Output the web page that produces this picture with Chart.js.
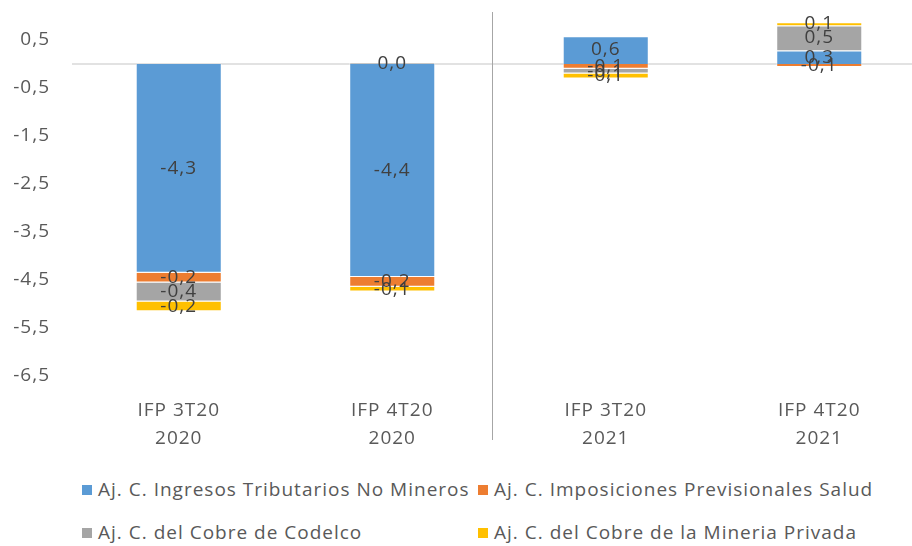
<!DOCTYPE html>
<html>
<head>
<meta charset="utf-8">
<script src="https://cdn.jsdelivr.net/npm/chart.js@4.4.1/dist/chart.umd.min.js"></script>
<style>
  html, body { margin: 0; padding: 0; background: #fff; overflow: hidden; }
  #wrap { position: relative; width: 926px; height: 546px; }
  #chart { position: absolute; left: 0; top: 0; }
  .legend { position: absolute; font-family: "Open Sans", sans-serif; font-size: 19px; letter-spacing: 1px; color: #595959; white-space: nowrap; }
  .legend span.box { display: inline-block; width: 10px; height: 10px; margin-right: 6px; vertical-align: middle; position: relative; top: -1px; }
</style>
</head>
<body>
<div id="wrap">
  <canvas id="chart" width="926" height="455"></canvas>
  <div id="legend"></div>
</div>
<script>
const categories = [["IFP 3T20", "2020"], ["IFP 4T20", "2020"], ["IFP 3T20", "2021"], ["IFP 4T20", "2021"]];
const seriesNames = [
  "Aj. C. Ingresos Tributarios No Mineros",
  "Aj. C. Imposiciones Previsionales Salud",
  "Aj. C. del Cobre de Codelco",
  "Aj. C. del Cobre de la Mineria Privada"
];
const ingresos = [-4.35, -4.44, 0.58, 0.28];
const imposiciones = [-0.2, -0.2, -0.1, -0.06];
const codelco = [-0.4, 0.02, -0.1, 0.52];
const mineria = [-0.2, -0.1, -0.1, 0.07];
const yTicks = [0.5, -0.5, -1.5, -2.5, -3.5, -4.5, -5.5, -6.5];
const colors = ["#5b9bd5", "#ed7d31", "#a5a5a5", "#ffc000"];

const fmt = v => v.toFixed(1).replace(".", ",");

const extras = {
  id: "extras",
  beforeDraw(chart) {
    chart.ctx.letterSpacing = "1px";
  },
  beforeDatasetsDraw(chart) {
    const { ctx, chartArea, scales } = chart;
    const y0 = scales.y.getPixelForValue(0);
    ctx.save();
    ctx.strokeStyle = "#d9d9d9";
    ctx.lineWidth = 1.5;
    ctx.beginPath();
    ctx.moveTo(chartArea.left, y0);
    ctx.lineTo(chartArea.right, y0);
    ctx.stroke();
    // year separator
    const xs = (scales.x.getPixelForTick(1) + scales.x.getPixelForTick(2)) / 2 - 7;
    ctx.strokeStyle = "#a6a6a6";
    ctx.lineWidth = 1;
    ctx.beginPath();
    ctx.moveTo(Math.round(xs) + 0.5, chartArea.top - 4);
    ctx.lineTo(Math.round(xs) + 0.5, chart.height - 15);
    ctx.stroke();
    ctx.restore();
  },
  afterDatasetsDraw(chart) {
    const ctx = chart.ctx;
    ctx.save();
    ctx.font = "19px 'Open Sans', sans-serif";
    ctx.fillStyle = "#404040";
    ctx.textAlign = "center";
    ctx.textBaseline = "middle";
    chart.data.datasets.forEach((ds, i) => {
      chart.getDatasetMeta(i).data.forEach((el, j) => {
        ctx.fillText(fmt(ds.data[j]), el.x, (el.y + el.base) / 2);
      });
    });
    ctx.restore();
  }
};

const series = [ingresos, imposiciones, codelco, mineria];
const data = {
  labels: categories,
  datasets: series.map((s, i) => ({
    label: seriesNames[i],
    data: s,
    backgroundColor: colors[i],
    borderColor: "rgba(255,255,255,0.5)",
    borderWidth: 1,
    categoryPercentage: 1,
    barPercentage: 0.403,
  })),
};

const config = {
  type: "bar",
  data: data,
  options: {
    responsive: false,
    animation: false,
    layout: { padding: { top: 16, right: 0, bottom: 5, left: 0 } },
    plugins: { legend: { display: false }, tooltip: { enabled: false } },
    scales: {
      x: {
        stacked: true,
        grid: { display: false },
        border: { display: false },
        afterFit: axis => { axis.height = 74; axis.paddingLeft = 0; axis.paddingRight = 0; },
        ticks: { color: "#595959", font: { family: "Open Sans", size: 19, lineHeight: 1.45 }, padding: 13, maxRotation: 0 },
      },
      y: {
        stacked: true,
        min: -6.5,
        max: 1.0,
        grid: { display: false, drawTicks: false },
        border: { display: false },
        afterBuildTicks: axis => { axis.ticks = yTicks.map(v => ({ value: v })); },
        afterFit: axis => { axis.width = 72; axis.paddingTop = 0; axis.paddingBottom = 0; },
        ticks: {
          color: "#595959",
          font: { family: "Open Sans", size: 19 },
          padding: 22,
          callback: v => fmt(v),
        },
      },
    },
  },
  plugins: [extras],
};
var myChart = new Chart(document.getElementById("chart"), config);

// legend in two columns
const legendPos = [[82, 476], [478, 476], [82, 519], [478, 519]];
const legend = document.getElementById("legend");
seriesNames.forEach((name, i) => {
  const d = document.createElement("div");
  d.className = "legend";
  d.style.left = legendPos[i][0] + "px";
  d.style.top = legendPos[i][1] + "px";
  d.innerHTML = "<span class='box' style='background:" + colors[i] + "'></span>" + name;
  legend.appendChild(d);
});
</script>
</body>
</html>
